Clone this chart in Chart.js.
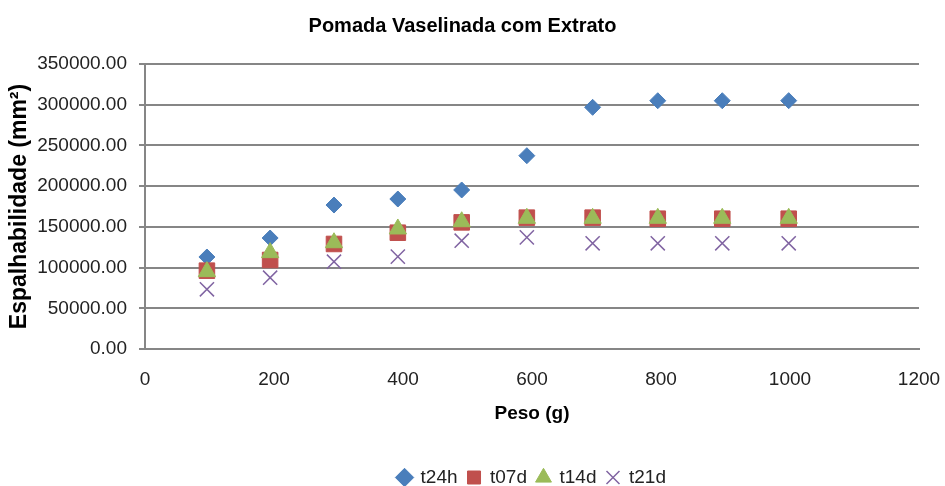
<!DOCTYPE html>
<html>
<head>
<meta charset="utf-8">
<script src="https://cdn.jsdelivr.net/npm/chart.js@4"></script>
<style>
  html, body { margin: 0; padding: 0; background: #fff; }
</style>
</head>
<body>
<canvas id="chart" width="945" height="486"></canvas>
<script>
// peso (g) on x, espalhabilidade (mm²) on y
const peso = [96, 194, 293, 392, 491, 592, 694, 795, 895, 998]
const t24h = [113000, 136300, 176800, 184200, 195300, 237400, 296800, 304900, 304900, 305000]
const t07d = [96200, 109300, 129000, 142800, 155500, 161300, 161300, 160000, 160000, 160000]
const t14d = [95000, 118300, 130500, 147400, 156300, 160500, 160500, 160500, 160500, 160500]
const t21d = [73300, 87600, 107200, 113400, 133000, 137100, 129800, 129800, 129800, 129800]
const seriesNames = ['t24h', 't07d', 't14d', 't21d']

const toPoints = (ys) => peso.map((x, i) => ({ x: x, y: ys[i] }))

const font = "'Liberation Sans', Arial, sans-serif"

window.onload = () => {
  // later series sit on top, like the original (lower order = drawn last)
  const options = {
    type: 'scatter',
    data: {
      datasets: [{
        label: seriesNames[0],
        data: toPoints(t24h),
        order: 4,
        pointStyle: 'rectRot',
        radius: 8,
        backgroundColor: '#4A7EBB',
        borderColor: '#4A7EBB',
        borderWidth: 1
      }, {
        label: seriesNames[1],
        data: toPoints(t07d),
        order: 3,
        pointStyle: 'rect',
        radius: 11,
        backgroundColor: '#C0504D',
        borderColor: '#C0504D',
        borderWidth: 1
      }, {
        label: seriesNames[2],
        data: toPoints(t14d),
        order: 2,
        pointStyle: 'triangle',
        radius: 10,
        backgroundColor: '#9BBB59',
        borderColor: '#9BBB59',
        borderWidth: 1
      }, {
        label: seriesNames[3],
        data: toPoints(t21d),
        order: 1,
        pointStyle: 'crossRot',
        radius: 10,
        backgroundColor: '#8064A2',
        borderColor: '#8064A2',
        borderWidth: 1.5
      }]
    },
    options: {
      responsive: false,
      animation: false,
      layout: { padding: { left: 6, right: 26, top: 0, bottom: -11 } },
      plugins: {
        tooltip: { enabled: false },
        title: {
          display: true,
          text: 'Pomada Vaselinada com Extrato',
          color: '#000',
          font: { family: font, size: 20, weight: 'bold' },
          padding: { top: 14, bottom: 26 }
        },
        legend: {
          position: 'bottom',
          fullSize: false,
          labels: {
            usePointStyle: true,
            boxWidth: 13,
            boxHeight: 13,
            padding: 10,
            color: '#222',
            font: { family: font, size: 19 },
            sort: (a, b) => a.datasetIndex - b.datasetIndex
          }
        }
      },
      scales: {
        x: {
          type: 'linear',
          min: 0,
          max: 1200,
          ticks: {
            stepSize: 200,
            color: '#222',
            font: { family: font, size: 19 },
            padding: 14,
            callback: (v) => String(v)
          },
          grid: { display: false, drawTicks: true, tickLength: 5, tickColor: '#868686' },
          border: { color: '#868686', width: 2 },
          title: {
            display: true,
            text: 'Peso (g)',
            color: '#000',
            font: { family: font, size: 19, weight: 'bold' },
            padding: { top: 10, bottom: 33 }
          },
          afterFit: (scale) => {
            scale.paddingLeft = 0
            scale.paddingRight = 0
            scale.height = 109
          }
        },
        y: {
          min: 0,
          max: 350000,
          ticks: {
            stepSize: 50000,
            color: '#222',
            font: { family: font, size: 19 },
            padding: 12,
            callback: (v) => v.toFixed(2)
          },
          grid: { color: '#868686', lineWidth: 2, tickLength: 6, tickColor: '#868686' },
          border: { color: '#868686', width: 2 },
          title: {
            display: true,
            text: 'Espalhabilidade (mm²)',
            color: '#000',
            font: { family: font, size: 23, weight: 'bold' },
            padding: { top: 0, bottom: 2 }
          },
          afterFit: (scale) => { scale.width = 139 }
        }
      }
    }
  }
  const canvas = document.getElementById('chart').getContext('2d')
  new Chart(canvas, options)
}
</script>
</body>
</html>
